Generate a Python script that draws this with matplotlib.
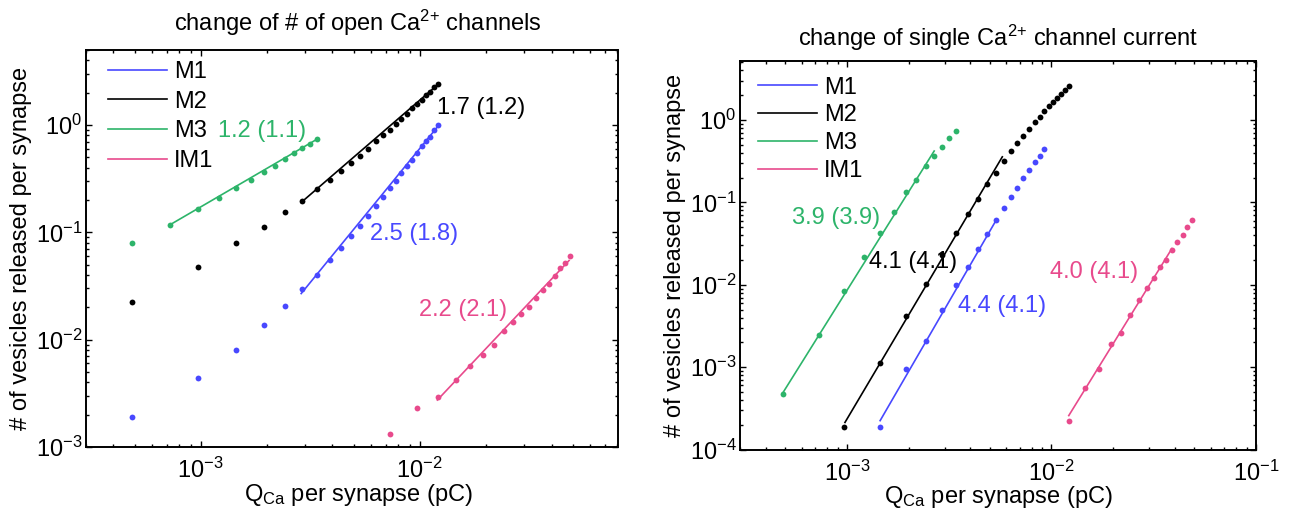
import matplotlib
matplotlib.use('Agg')
import matplotlib.pyplot as plt

plt.rcParams['font.family'] = ['Liberation Sans', 'DejaVu Sans']
plt.rcParams['mathtext.fontset'] = 'custom'
plt.rcParams['mathtext.rm'] = 'Liberation Sans'
plt.rcParams['mathtext.it'] = 'Liberation Sans:italic'
plt.rcParams['mathtext.bf'] = 'Liberation Sans:bold'
plt.rcParams['mathtext.sf'] = 'Liberation Sans'

# ---------------- data: Q_Ca per synapse (pC) ----------------
q_m3 = [0.486e-3, 0.729e-3, 0.972e-3, 1.215e-3, 1.458e-3, 1.701e-3, 1.944e-3,
        2.187e-3, 2.430e-3, 2.673e-3, 2.916e-3, 3.159e-3, 3.402e-3]
q_even = [0.486e-3, 0.972e-3, 1.458e-3, 1.944e-3, 2.430e-3, 2.916e-3, 3.402e-3,
          3.888e-3, 4.374e-3, 4.860e-3, 5.346e-3, 5.832e-3, 6.318e-3, 6.804e-3,
          7.290e-3, 7.776e-3, 8.262e-3, 8.748e-3, 9.234e-3, 9.720e-3, 10.206e-3,
          10.692e-3, 11.178e-3, 11.664e-3, 12.150e-3]
q_im1 = [7.29e-3, 9.72e-3, 12.15e-3, 14.58e-3, 17.01e-3, 19.44e-3, 21.87e-3,
         24.30e-3, 26.73e-3, 29.16e-3, 31.59e-3, 34.02e-3, 36.45e-3, 38.88e-3,
         41.31e-3, 43.74e-3, 46.17e-3, 48.60e-3]

# ---- left panel: change of # of open Ca channels ----
L_m1 = [1.9e-3, 4.36e-3, 8.04e-3, 0.0137, 0.0205, 0.0295, 0.0404, 0.0548, 0.0719,
        0.0922, 0.115, 0.1425, 0.175, 0.212, 0.257, 0.303, 0.357, 0.418, 0.475,
        0.552, 0.631, 0.703, 0.78, 0.897, 1.0]
L_m2 = [0.0225, 0.0474, 0.0792, 0.113, 0.155, 0.198, 0.252, 0.31, 0.376, 0.44,
        0.518, 0.601, 0.703, 0.805, 0.905, 1.02, 1.146, 1.28, 1.43, 1.57, 1.72,
        1.89, 2.05, 2.24, 2.42]
L_m3 = [0.0798, 0.117, 0.165, 0.209, 0.259, 0.31, 0.365, 0.418, 0.478, 0.543,
        0.605, 0.664, 0.74]
L_im1 = [1.33e-3, 2.3e-3, 2.92e-3, 4.23e-3, 5.68e-3, 7.27e-3, 8.9e-3, 0.0121,
         0.01455, 0.0175, 0.02, 0.0243, 0.0292, 0.0333, 0.0389, 0.0461, 0.0516, 0.0605]

L_fit_m1_x, L_fit_m1_y = [2.88e-3, 12.25e-3], [0.0269, 1.0]
L_fit_m2_x, L_fit_m2_y = [2.88e-3, 12.25e-3], [0.19, 2.43]
L_fit_m3_x, L_fit_m3_y = [0.722e-3, 3.41e-3], [0.117, 0.74]
L_fit_im1_x, L_fit_im1_y = [12.05e-3, 48.1e-3], [2.74e-3, 0.0547]

# ---- right panel: change of single Ca channel current ----
R_m1 = [1.9e-4, 9.4e-4, 2.05e-3, 4.95e-3, 0.01, 0.0166, 0.0273, 0.0415, 0.0618,
        0.085, 0.115, 0.151, 0.195, 0.246, 0.305, 0.364, 0.44]
R_m2 = [1.9e-4, 1.12e-3, 4.15e-3, 0.0103, 0.0229, 0.0428, 0.0724, 0.111, 0.165,
        0.228, 0.316, 0.419, 0.52, 0.644, 0.783, 0.938, 1.097, 1.29, 1.48, 1.66,
        1.85, 2.09, 2.32, 2.55]
R_m3 = [4.77e-4, 2.47e-3, 8.5e-3, 0.0215, 0.0423, 0.0768, 0.132, 0.189, 0.275,
        0.366, 0.475, 0.611, 0.736]
R_im1 = [2.2e-4, 5.6e-4, 9.5e-4, 1.92e-3, 2.61e-3, 4.25e-3, 6.52e-3, 9.23e-3,
         0.0122, 0.0166, 0.02, 0.0267, 0.0334, 0.0406, 0.0504, 0.0619]

R_fit_m1_x, R_fit_m1_y = [1.453e-3, 5.4e-3], [2.24e-4, 0.0625]
R_fit_m2_x, R_fit_m2_y = [0.978e-3, 5.75e-3], [2.13e-4, 0.357]
R_fit_m3_x, R_fit_m3_y = [0.482e-3, 2.67e-3], [4.72e-4, 0.42]
R_fit_im1_x, R_fit_im1_y = [12.15e-3, 38.8e-3], [2.58e-4, 0.0275]

labels = ['M1', 'M2', 'M3', 'IM1']
colors = ['#4848ff', '#000000', '#2db46a', '#e84a8c']

L_texts = ['2.5 (1.8)', '1.7 (1.2)', '1.2 (1.1)', '2.2 (2.1)']
L_text_pos = [(9.44e-3, 0.0969), (0.0191, 1.45), (1.9e-3, 0.88), (0.0157, 0.0191)]
R_texts = ['4.4 (4.1)', '4.1 (4.1)', '3.9 (3.9)', '4.0 (4.1)']
R_text_pos = [(5.74e-3, 5.5e-3), (2.1e-3, 0.0189), (8.87e-4, 0.0651), (0.01614, 0.01428)]

FS = 17
W, H = 1293, 513
fig = plt.figure(figsize=(W / 100, H / 100), dpi=100)


def px_rect(x0, y0, x1, y1):
    return [x0 / W, 1 - y1 / H, (x1 - x0) / W, (y1 - y0) / H]


axL = fig.add_axes(px_rect(86, 50, 617.5, 447))
axR = fig.add_axes(px_rect(740, 61, 1256, 449.5))


def draw(ax, q_lists, y_lists, fits, texts, text_pos, xlim, ylim, leg_anchor, lsp):
    for (fx, fy), lab, c in zip(fits, labels, colors):
        ax.plot(fx, fy, '-', color=c, lw=1.2, label=lab, zorder=2)
    for qx, yy, c in zip(q_lists, y_lists, colors):
        ax.plot(qx, yy, 'o', color=c, ms=4.2, mew=0, zorder=3)
    for t, (tx, ty), c in zip(texts, text_pos, colors):
        ax.text(tx, ty, t, color=c, fontsize=FS, ha='center', va='center', zorder=4)
    ax.set_xscale('log')
    ax.set_yscale('log')
    ax.set_xlim(*xlim)
    ax.set_ylim(*ylim)
    ax.tick_params(which='both', direction='in', top=True, right=True,
                   labelsize=FS, width=1.0)
    ax.tick_params(which='major', length=4)
    ax.tick_params(which='minor', length=2)
    ax.tick_params(axis='x', which='major', pad=8)
    ax.tick_params(axis='y', which='major', pad=2.5)
    for sp in ax.spines.values():
        sp.set_linewidth(1.4)
    leg = ax.legend(loc='upper left', bbox_to_anchor=leg_anchor, frameon=False,
                    fontsize=FS, handlelength=2.5, handletextpad=0.3,
                    labelspacing=lsp, borderpad=0, borderaxespad=0)
    return leg


draw(axL, [q_even, q_even, q_m3, q_im1], [L_m1, L_m2, L_m3, L_im1],
     [(L_fit_m1_x, L_fit_m1_y), (L_fit_m2_x, L_fit_m2_y),
      (L_fit_m3_x, L_fit_m3_y), (L_fit_im1_x, L_fit_im1_y)],
     L_texts, L_text_pos, (3e-4, 8e-2), (1e-3, 5), (0.041, 0.972), 0.32)
draw(axR, [q_even[2:19], q_even[1:], q_m3, q_im1[2:]], [R_m1, R_m2, R_m3, R_im1],
     [(R_fit_m1_x, R_fit_m1_y), (R_fit_m2_x, R_fit_m2_y),
      (R_fit_m3_x, R_fit_m3_y), (R_fit_im1_x, R_fit_im1_y)],
     R_texts, R_text_pos, (3e-4, 1e-1), (1e-4, 5.2), (0.034, 0.96), 0.25)

# titles and axis labels
fig.text(358 / W, 1 - 30.7 / H, 'change of # of open Ca$^{2{+}}$ channels',
         fontsize=FS, ha='center', va='baseline')
fig.text(998 / W, 1 - 45.5 / H, 'change of single Ca$^{2{+}}$ channel current',
         fontsize=FS, ha='center', va='baseline')
fig.text(358 / W, 1 - 501 / H, 'Q$_{\\mathrm{Ca}}$ per synapse (pC)',
         fontsize=FS, ha='center', va='baseline')
fig.text(998 / W, 1 - 503 / H, 'Q$_{\\mathrm{Ca}}$ per synapse (pC)',
         fontsize=FS, ha='center', va='baseline')
fig.text(20.7 / W, 1 - 248.7 / H, '# of vesicles released per synapse',
         fontsize=FS, rotation=90, ha='center', va='center')
fig.text(675.4 / W, 1 - 255.5 / H, '# of vesicles released per synapse',
         fontsize=FS, rotation=90, ha='center', va='center')

fig.savefig('out.png', dpi=100)
